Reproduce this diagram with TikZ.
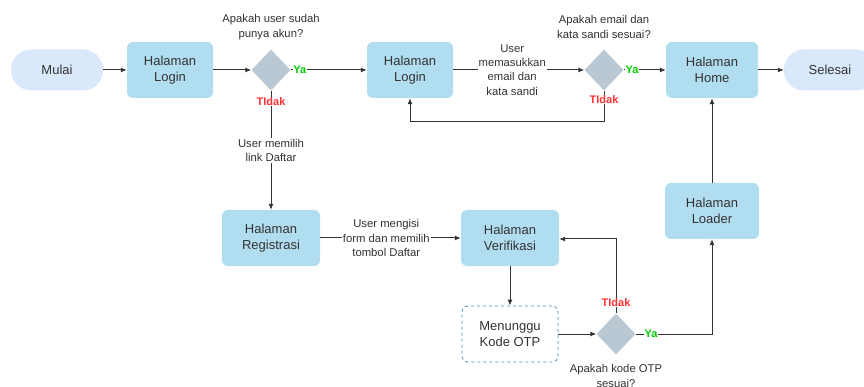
\documentclass[tikz,border=0pt]{standalone}
\usepackage{fontspec}
\setmainfont{Liberation Sans}
\usetikzlibrary{shapes.geometric,arrows.meta}
\definecolor{pagefill}{HTML}{B1DDF0}
\definecolor{termfill}{HTML}{DAE8FC}
\definecolor{decfill}{HTML}{BAC8D3}
\definecolor{ink}{HTML}{333333}
\definecolor{yagreen}{HTML}{00CC00}
\definecolor{tidakred}{HTML}{FF3333}
\definecolor{dashblue}{HTML}{3A8FBF}
\begin{document}
\begin{tikzpicture}[x=1pt,y=-1pt,
  page/.style={rectangle, rounded corners=6pt, fill=pagefill, minimum width=86pt,
    minimum height=56pt, align=center, text=ink, font=\fontsize{13}{16}\selectfont},
  wide/.style={page, minimum width=98pt},
  term/.style={rectangle, rounded corners=20pt, fill=termfill, minimum width=92pt,
    minimum height=41pt, text=ink, font=\fontsize{13}{16}\selectfont},
  waitbox/.style={rectangle, rounded corners=6pt, draw=dashblue, dashed, fill=white,
    line width=0.8pt, minimum width=96pt, minimum height=56pt, align=center, text=ink,
    font=\fontsize{13}{16}\selectfont},
  decision/.style={diamond, fill=decfill, minimum width=39pt, minimum height=41pt, inner sep=0pt},
  note/.style={align=center, text=ink, font=\fontsize{11.3}{14.3}\selectfont, fill=white, inner sep=1pt},
  question/.style={align=center, text=ink, font=\fontsize{11.3}{14.5}\selectfont, inner sep=1pt},
  yes/.style={text=yagreen, font=\fontsize{11}{13}\selectfont\bfseries, fill=white, inner sep=0.5pt},
  no/.style={text=tidakred, font=\fontsize{11}{13}\selectfont\bfseries, fill=white, inner sep=0.5pt},
  flow/.style={draw=ink, line width=1pt, -{Latex[length=6pt,width=5pt]}},
  plain/.style={draw=ink, line width=1pt}
]
\useasboundingbox (0,0) rectangle (864,387);
\clip (0,0) rectangle (864,387);
\fill[white] (0,0) rectangle (864,387);

% nodes of the flow
\node[term] (start) at (57,70) {Mulai};
\node[page] (login1) at (170,70) {Halaman\\Login};
\node[decision] (d1) at (271,70) {};
\node[page] (login2) at (410,70) {Halaman\\Login};
\node[decision] (d2) at (604,70) {};
\node[wide, minimum width=92pt] (home) at (712,70) {Halaman\\Home};
\node[term] (stop) at (830,70) {Selesai};
\node[wide] (reg) at (271,238) {Halaman\\Registrasi};
\node[wide] (verif) at (510,238) {Halaman\\Verifikasi};
\node[waitbox] (wait) at (510,334) {Menunggu\\Kode OTP};
\node[decision] (d3) at (616,334) {};
\node[wide, minimum width=94pt] (loader) at (712,211) {Halaman\\Loader};

% questions beside the decisions
\node[question] (q1) at (271,27) {Apakah user sudah\\punya akun?};
\node[question] (q2) at (604,27) {Apakah email dan\\kata sandi sesuai?};
\node[question] (q3) at (616,376) {Apakah kode OTP\\sesuai?};

% helper points for bent connectors
\coordinate (c1) at (604,122);
\coordinate (c2) at (410,122);
\coordinate (c3) at (616,239);
\coordinate (c4) at (712,334);

% connectors
\draw[flow] (start) -- (login1);
\draw[flow] (login1) -- (d1);
\draw[flow] (d1) -- node[yes, pos=0.12] (ya1) {Ya} (login2);
\draw[flow] (login2) -- node[note, pos=0.45] (n1) {User\\memasukkan\\email dan\\kata sandi} (d2);
\draw[flow] (d2) -- node[yes, pos=0.2] (ya2) {Ya} (home);
\draw[flow] (home) -- (stop);
\draw[flow] (d1) -- node[no, pos=0.09] (t1) {TIdak} node[note, pos=0.5] (n2) {User memilih\\link Daftar} (reg);
\draw[flow] (d2) -- node[no, pos=0.27] (t2) {TIdak} (c1) -- (c2) -- (login2);
\draw[flow] (reg) -- node[note, pos=0.47] (n3) {User mengisi\\form dan memilih\\tombol Daftar} (verif);
\draw[flow] (verif) -- (wait);
\draw[flow] (wait) -- (d3);
\draw[flow] (d3) -- node[no, pos=0.15] (t3) {TIdak} (c3) -- (verif.east |- c3);
\draw[flow] (d3) -- node[yes, pos=0.2] (ya3) {Ya} (c4) -- (loader);
\draw[flow] (loader) -- (home);
\end{tikzpicture}
\end{document}
